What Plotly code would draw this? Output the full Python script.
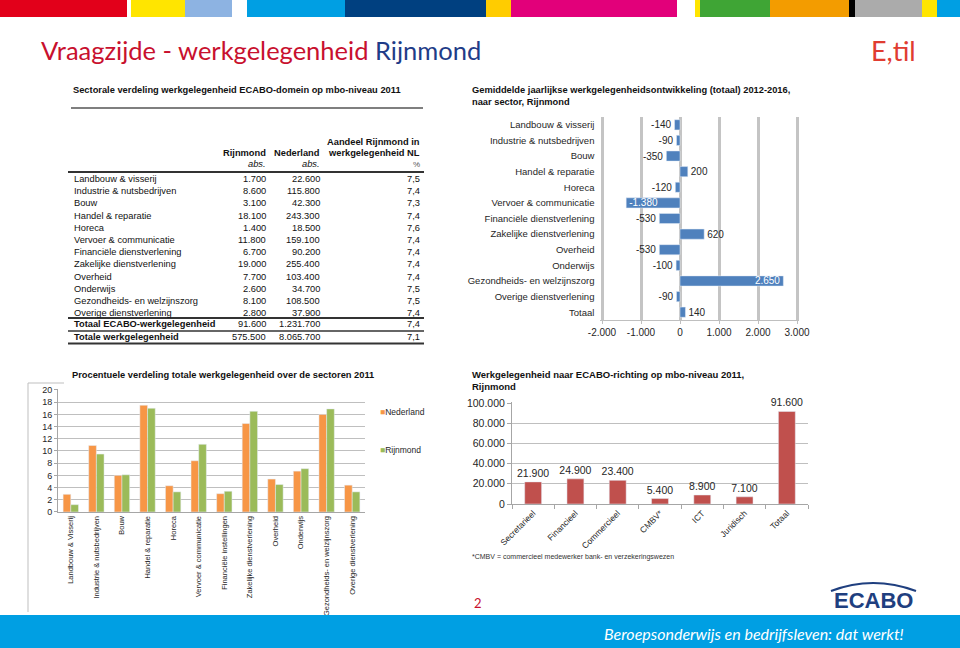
import plotly.graph_objects as go

W, H = 960, 648
def X(px): return px / W
def Y(py): return 1 - py / H

# ---------------- DATA ----------------
table_sectors = ["Landbouw & visserij", "Industrie & nutsbedrijven", "Bouw", "Handel & reparatie",
                 "Horeca", "Vervoer & communicatie", "Financiële dienstverlening",
                 "Zakelijke dienstverlening", "Overheid", "Onderwijs", "Gezondheids- en welzijnszorg",
                 "Overige dienstverlening", "Totaal ECABO-werkgelegenheid", "Totale werkgelegenheid"]
table_rijnmond = [1700, 8600, 3100, 18100, 1400, 11800, 6700, 19000, 7700, 2600, 8100, 2800, 91600, 575500]
table_nederland = [22600, 115800, 42300, 243300, 18500, 159100, 90200, 255400, 103400, 34700, 108500,
                   37900, 1231700, 8065700]
table_pct = [7.5, 7.4, 7.3, 7.4, 7.6, 7.4, 7.4, 7.4, 7.4, 7.5, 7.5, 7.4, 7.4, 7.1]

dev_sectors = ["Landbouw & visserij", "Industrie & nutsbedrijven", "Bouw", "Handel & reparatie",
               "Horeca", "Vervoer & communicatie", "Financiële dienstverlening",
               "Zakelijke dienstverlening", "Overheid", "Onderwijs", "Gezondheids- en welzijnszorg",
               "Overige dienstverlening", "Totaal"]
dev_values = [-140, -90, -350, 200, -120, -1380, -530, 620, -530, -100, 2650, -90, 140]
dev_ticks = [-2000, -1000, 0, 1000, 2000, 3000]

pct_sectors = ["Landbouw & Visserij", "Industrie & nutsbedrijven", "Bouw", "Handel & reparatie",
               "Horeca", "Vervoer & communicatie", "Financiële instellingen",
               "Zakelijke dienstverlening", "Overheid", "Onderwijs", "Gezondheids- en welzijnszorg",
               "Overige dienstverlening"]
pct_nederland = [2.9, 10.9, 6.0, 17.5, 4.3, 8.4, 3.0, 14.5, 5.4, 6.7, 16.0, 4.4]
pct_rijnmond = [1.2, 9.5, 6.1, 17.0, 3.3, 11.1, 3.4, 16.5, 4.5, 7.1, 16.9, 3.3]
pct_ticks = [0, 2, 4, 6, 8, 10, 12, 14, 16, 18, 20]

ecabo_dirs = ["Secretarieel", "Financieel", "Commercieel", "CMBV*", "ICT", "Juridisch", "Totaal"]
ecabo_values = [21900, 24900, 23400, 5400, 8900, 7100, 91600]
ecabo_ticks = [0, 20000, 40000, 60000, 80000, 100000]


def nl(v):
    s = f"{abs(v):,}".replace(",", ".")
    return ("-" if v < 0 else "") + s

def nlpct(v):
    return f"{v:.1f}".replace(".", ",")

FONT = "Liberation Sans, Arial, sans-serif"
TXT = "#262626"
BLUE = "#4F81BD"
ORANGE = "#F79646"
GREEN = "#9BBB59"
RED = "#C0504D"

fig = go.Figure()

# ---------------- Top-right: development horizontal bars ----------------
pos = ["inside" if abs(v) > 1000 else "outside" for v in dev_values]
fig.add_trace(go.Bar(
    x=dev_values, y=dev_sectors, orientation="h", marker_color=BLUE, width=0.65,
    text=[nl(v) for v in dev_values], textposition=pos, insidetextanchor="end",
    textangle=0, constraintext="none",
    insidetextfont=dict(color="white", size=10, family=FONT),
    outsidetextfont=dict(color=TXT, size=10, family=FONT),
    cliponaxis=False, showlegend=False, xaxis="x", yaxis="y", hoverinfo="x+y"))

# ---------------- Bottom-left: grouped percentage bars ----------------
fig.add_trace(go.Bar(x=pct_sectors, y=pct_nederland, name="Nederland", marker_color=ORANGE,
                     width=0.3, offset=-0.3, showlegend=False, xaxis="x2", yaxis="y2"))
fig.add_trace(go.Bar(x=pct_sectors, y=pct_rijnmond, name="Rijnmond", marker_color=GREEN,
                     width=0.3, offset=0.0, showlegend=False, xaxis="x2", yaxis="y2"))

# ---------------- Bottom-right: ECABO direction bars ----------------
fig.add_trace(go.Bar(x=ecabo_dirs, y=ecabo_values, marker_color=RED, width=0.4,
                     text=[nl(v) for v in ecabo_values], textposition="outside", textangle=0,
                     constraintext="none",
                     textfont=dict(color=TXT, size=10.5, family=FONT), cliponaxis=False,
                     showlegend=False, xaxis="x3", yaxis="y3"))

# axis ranges padded slightly so the edge gridlines are drawn
x1pad = 40      # units of dev axis
y2pad = 0.15    # units of pct axis
y3pad = 700     # units of ecabo axis
px_per_dev = 195 / 5000
px_per_pct = 122 / 20
px_per_ec = 101 / 100000

GRID = "#C4C4C4"
fig.update_layout(
    width=W, height=H, autosize=False,
    margin=dict(l=0, r=0, t=0, b=0, pad=0),
    paper_bgcolor="white", plot_bgcolor="white",
    barmode="overlay",
    font=dict(family=FONT, color=TXT, size=10),
    xaxis=dict(domain=[X(602 - x1pad * px_per_dev), X(797 + x1pad * px_per_dev)],
               range=[-2000 - x1pad, 3000 + x1pad], tickvals=dev_ticks, automargin=False,
               ticktext=[nl(v) for v in dev_ticks], showgrid=True, gridcolor=GRID, gridwidth=2.5,
               zeroline=False, showline=True, linecolor="#BFBFBF", linewidth=1,
               ticks="outside", ticklen=3, tickcolor="#BFBFBF",
               tickfont=dict(size=10, color=TXT), anchor="y", fixedrange=True),
    yaxis=dict(domain=[Y(320), Y(117)], type="category", autorange="reversed", automargin=False,
               showgrid=False, zeroline=False, showline=False, ticks="", ticklabelstandoff=5,
               tickfont=dict(size=9.5, color=TXT), anchor="x", fixedrange=True),
    xaxis2=dict(domain=[X(58), X(365)], type="category", tickangle=-90, automargin=False,
                showline=True, linecolor="#A6A6A6", showgrid=False, ticks="",
                tickfont=dict(size=7.5, color=TXT), anchor="y2", fixedrange=True),
    yaxis2=dict(domain=[Y(512), Y(390 - y2pad * px_per_pct)], range=[0, 20 + y2pad],
                tickvals=pct_ticks, automargin=False,
                showgrid=True, gridcolor="#BFBFBF", gridwidth=1, zeroline=False,
                showline=True, linecolor="#A6A6A6", ticks="outside", ticklen=3, tickcolor="#A6A6A6",
                tickfont=dict(size=9, color=TXT), anchor="x2", fixedrange=True),
    xaxis3=dict(domain=[X(512), X(808)], type="category", tickangle=-45, automargin=False,
                showline=True, linecolor="#A6A6A6", showgrid=False, ticks="outside",
                tickson="boundaries", ticklen=4, tickcolor="#A6A6A6",
                tickfont=dict(size=8.5, color=TXT), anchor="y3", fixedrange=True),
    yaxis3=dict(domain=[Y(504), Y(403 - y3pad * px_per_ec)], range=[0, 100000 + y3pad],
                tickvals=ecabo_ticks, automargin=False,
                ticktext=[nl(v) for v in ecabo_ticks],
                showgrid=True, gridcolor="#BFBFBF", gridwidth=1, zeroline=False,
                showline=True, linecolor="#A6A6A6", ticks="outside", ticklen=4, tickcolor="#A6A6A6",
                tickfont=dict(size=10.5, color=TXT), anchor="x3", fixedrange=True),
)

shapes = []
annotations = []

# ---------------- Header colour strip ----------------
strip = [(0, 127, "#E2001A"), (131, 185, "#FFE500"), (185, 232, "#8DB3E2"),
         (247, 345, "#009FE3"), (345, 486, "#004080"), (486, 511, "#FFCC00"),
         (511, 677, "#E2007A"), (695, 700, "#FFE500"), (700, 770, "#3FA535"),
         (770, 849, "#F39C00"), (849, 855, "#000000"), (855, 922, "#ABABAB"),
         (922, 937, "#FFE500"), (937, 960, "#009FE3")]
for x0, x1, c in strip:
    shapes.append(dict(type="rect", xref="paper", yref="paper", x0=X(x0), x1=X(x1),
                       y0=Y(17), y1=1, fillcolor=c, line_width=0, layer="above"))

# ---------------- Titles ----------------
annotations.append(dict(
    x=X(39), y=Y(50), xref="paper", yref="paper", xanchor="left", yanchor="middle", showarrow=False,
    text='<span style="color:#C8102E">Vraagzijde - werkgelegenheid </span>'
         '<span style="color:#1F3C88">Rijnmond</span>',
    font=dict(family="Lato, sans-serif", size=25.5)))
annotations.append(dict(
    x=X(918), y=Y(50), xref="paper", yref="paper", xanchor="right", yanchor="middle", showarrow=False,
    text="E,til", font=dict(family="Lato, sans-serif", size=27, color="#E03C31")))

annotations.append(dict(
    x=X(71), y=Y(90), xref="paper", yref="paper", xanchor="left", yanchor="middle", showarrow=False,
    text="<b>Sectorale verdeling werkgelegenheid ECABO-domein op mbo-niveau 2011</b>",
    font=dict(size=9.3, color="#111111")))
shapes.append(dict(type="line", xref="paper", yref="paper", x0=X(71), x1=X(423), y0=Y(108), y1=Y(108),
                   line=dict(color="#555555", width=1.5)))
annotations.append(dict(
    x=X(470), y=Y(96), xref="paper", yref="paper", xanchor="left", yanchor="middle", showarrow=False,
    align="left",
    text="<b>Gemiddelde jaarlijkse werkgelegenheidsontwikkeling (totaal) 2012-2016,<br>naar sector, Rijnmond</b>",
    font=dict(size=9.3, color="#111111")))

# ---------------- Table ----------------
col_label, col_r, col_n, col_p = 72, 268, 322, 422
hdr_font = dict(size=9.3, color="#111111")
def ann(x, y, text, anchor, font):
    annotations.append(dict(x=X(x), y=Y(y), xref="paper", yref="paper", xanchor=anchor,
                            yanchor="middle", showarrow=False, text=text, font=font))

ann(col_p, 142, "<b>Aandeel Rijnmond in</b>", "right", hdr_font)
ann(col_r, 153, "<b>Rijnmond</b>", "right", hdr_font)
ann(col_n, 153, "<b>Nederland</b>", "right", hdr_font)
ann(col_p, 153, "<b>werkgelegenheid NL</b>", "right", hdr_font)
ann(col_r, 164, "<i>abs.</i>", "right", hdr_font)
ann(col_n, 164, "<i>abs.</i>", "right", hdr_font)
ann(col_p, 164, "%", "right", dict(size=8, color="#555555"))

row_font = dict(size=9.3, color="#111111")
for i, name in enumerate(table_sectors):
    if i < 12:
        yy = 179 + i * 12.2
    elif i == 12:
        yy = 324.5
    else:
        yy = 337
    bold = i >= 12
    lab = f"<b>{name}</b>" if bold else name
    ann(col_label, yy, lab, "left", row_font)
    ann(col_r, yy, nl(table_rijnmond[i]), "right", row_font)
    ann(col_n, yy, nl(table_nederland[i]), "right", row_font)
    ann(col_p, yy, nlpct(table_pct[i]), "right", row_font)

for yy, wdt in [(172, 2), (318, 2), (331, 1.5), (343.5, 2)]:
    shapes.append(dict(type="line", xref="paper", yref="paper", x0=X(68), x1=X(424),
                       y0=Y(yy), y1=Y(yy), line=dict(color="#333333", width=wdt)))

# ---------------- Bottom-left chart extras ----------------
shapes.append(dict(type="line", xref="paper", yref="paper", x0=X(28), x1=X(28), y0=Y(383), y1=Y(612),
                   line=dict(color="#BFBFBF", width=1)))
shapes.append(dict(type="line", xref="paper", yref="paper", x0=X(28), x1=X(64), y0=Y(383), y1=Y(383),
                   line=dict(color="#BFBFBF", width=1)))
annotations.append(dict(
    x=X(70), y=Y(375), xref="paper", yref="paper", xanchor="left", yanchor="middle", showarrow=False,
    text="<b>Procentuele verdeling totale werkgelegenheid over de sectoren 2011</b>",
    font=dict(size=9.3, color="#111111")))
for yy, name, c in [(412, "Nederland", ORANGE), (450, "Rijnmond", GREEN)]:
    annotations.append(dict(
        x=X(378), y=Y(yy), xref="paper", yref="paper", xanchor="left", yanchor="middle", showarrow=False,
        text=f'<span style="color:{c}">■</span>{name}', font=dict(size=8.5, color=TXT)))

# ---------------- Bottom-right chart extras ----------------
annotations.append(dict(
    x=X(470), y=Y(381), xref="paper", yref="paper", xanchor="left", yanchor="middle", showarrow=False,
    align="left",
    text="<b>Werkgelegenheid naar ECABO-richting op mbo-niveau 2011,<br>Rijnmond</b>",
    font=dict(size=9.5, color="#111111")))
annotations.append(dict(
    x=X(470), y=Y(557), xref="paper", yref="paper", xanchor="left", yanchor="middle", showarrow=False,
    text="*CMBV = commercieel medewerker bank- en verzekeringswezen",
    font=dict(size=7, color="#333333")))

# ---------------- Footer ----------------
annotations.append(dict(
    x=X(478), y=Y(603), xref="paper", yref="paper", xanchor="center", yanchor="middle", showarrow=False,
    text="2", font=dict(size=13, color="#C8102E", family="Lato, sans-serif")))
annotations.append(dict(
    x=X(873), y=Y(600), xref="paper", yref="paper", xanchor="center", yanchor="middle", showarrow=False,
    text="<b>ECABO</b>", font=dict(size=22, color="#1F3F7F", family="Liberation Sans, Arial")))
shapes.append(dict(type="path", xref="paper", yref="paper",
                   path=f"M {X(831)},{Y(591)} Q {X(873)},{Y(575)} {X(916)},{Y(591)}",
                   line=dict(color="#1F3F7F", width=2)))
shapes.append(dict(type="rect", xref="paper", yref="paper", x0=0, x1=1, y0=0, y1=Y(615),
                   fillcolor="#009FE3", line_width=0, layer="above"))
annotations.append(dict(
    x=X(906), y=Y(633), xref="paper", yref="paper", xanchor="right", yanchor="middle", showarrow=False,
    text="Beroepsonderwijs en bedrijfsleven: dat werkt!",
    font=dict(size=16, color="white", family="Lato, sans-serif", style="italic")))

fig.update_layout(shapes=shapes, annotations=annotations)
fig.write_html("out.html", config={"displayModeBar": False},
               post_script="document.body.style.margin='0px';"
                           "document.body.style.overflow='hidden';")
